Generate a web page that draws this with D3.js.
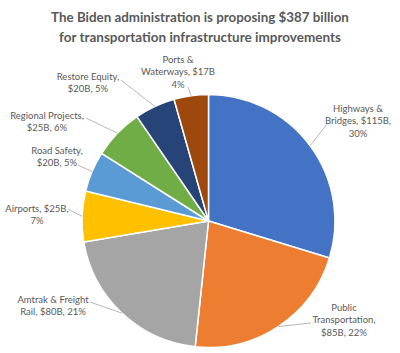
<!DOCTYPE html>
<html>
<head>
<meta charset="utf-8">
<script src="https://cdn.jsdelivr.net/npm/d3@7"></script>
<style>
  html, body { margin: 0; padding: 0; background: #fff; }
  svg { display: block; }
</style>
</head>
<body>
<svg id="chart" width="400" height="353"></svg>
<script>
// ---- data ----
const titleLines = [
  "The Biden administration is proposing $387 billion",
  "for transportation infrastructure improvements"
];
const categories = ["Highways & Bridges", "Public Transportation", "Amtrak & Freight Rail", "Airports",
                    "Road Safety", "Regional Projects", "Restore Equity", "Ports & Waterways"];
const values = [115, 85, 80, 25, 20, 25, 20, 17];           // $ billions
const percents = [30, 22, 21, 7, 5, 6, 5, 4];
const labelLines = [
  ["Highways &", "Bridges, $115B,", "30%"],
  ["Public", "Transportation,", "$85B, 22%"],
  ["Amtrak & Freight", "Rail, $80B, 21%"],
  ["Airports, $25B,", "7%"],
  ["Road Safety,", "$20B, 5%"],
  ["Regional Projects,", "$25B, 6%"],
  ["Restore Equity,", "$20B, 5%"],
  ["Ports &", "Waterways, $17B", "4%"]
];
const colors = ["#4472C4", "#ED7D31", "#A5A5A5", "#FFC000", "#5B9BD5", "#70AD47", "#264478", "#9E480E"];

// ---- layout (label anchors: center x, first baseline y; leader start) ----
const labelLayout = [
  {x: 358, y: 112, lx: 327, ly: 124},
  {x: 344, y: 311, lx: 311, ly: 323},
  {x: 53,  y: 303, lx: 90,  ly: 302},
  {x: 37,  y: 212, lx: 68,  ly: 209},
  {x: 57,  y: 154, lx: 78,  ly: 165},
  {x: 47,  y: 119, lx: 86,  ly: 118},
  {x: 88,  y: 80,  lx: 121, ly: 80},
  {x: 178, y: 63,  lx: 188, ly: 87}
];

const svg = d3.select("#chart");
const cx = 208.5, cy = 221, R = 126.5;
const font = "Lato, 'Open Sans', 'DejaVu Sans', sans-serif";

// title
const titleTargets = [298, 282];
titleLines.forEach((t, i) => {
  const txt = svg.append("text")
    .attr("x", 200).attr("y", 22 + i * 20)
    .attr("text-anchor", "middle")
    .attr("font-family", font)
    .attr("font-weight", "bold")
    .attr("font-size", 14)
    .attr("fill", "#595959")
    .text(t);
  const w = txt.node().getComputedTextLength();
  txt.attr("font-size", 14 * titleTargets[i] / w);
});

const pie = d3.pie().sort(null).value(d => d)(values);
const arc = d3.arc().innerRadius(0).outerRadius(R);

const g = svg.append("g").attr("transform", `translate(${cx},${cy})`);
g.selectAll("path.slice").data(pie).enter().append("path")
  .attr("class", "slice")
  .attr("d", arc)
  .attr("fill", (d, i) => colors[i])
  .attr("stroke", "#fff")
  .attr("stroke-width", 1.5)
  .attr("stroke-linejoin", "round");

// leader lines
pie.forEach((d, i) => {
  const a = (d.startAngle + d.endAngle) / 2;
  const ex = cx + R * Math.sin(a), ey = cy - R * Math.cos(a);
  const L = labelLayout[i];
  svg.append("path")
    .attr("d", `M${L.lx},${L.ly}L${ex},${ey}`)
    .attr("stroke", "#a6a6a6")
    .attr("stroke-width", 0.8)
    .attr("fill", "none");
});

// labels
labelLines.forEach((lines, i) => {
  const L = labelLayout[i];
  const t = svg.append("text")
    .attr("text-anchor", "middle")
    .attr("font-family", font)
    .attr("font-size", 9.5)
    .attr("fill", "#595959");
  lines.forEach((s, j) => {
    t.append("tspan").attr("x", L.x).attr("y", L.y + j * 12.3).text(s);
  });
});
</script>
</body>
</html>
